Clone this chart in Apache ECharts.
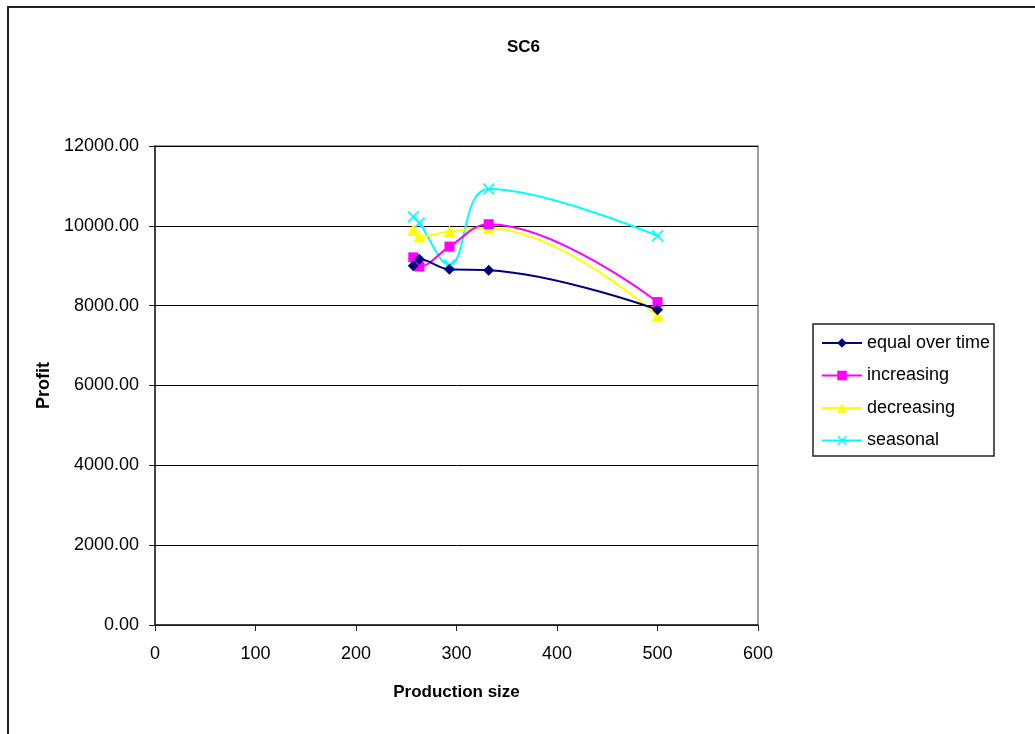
<!DOCTYPE html>
<html>
<head>
<meta charset="utf-8">
<script src="https://cdn.jsdelivr.net/npm/echarts@6/dist/echarts.min.js"></script>
<style>
  html, body { margin: 0; padding: 0; background: #fff; }
  #chart { width: 1035px; height: 734px; }
</style>
</head>
<body>
<div id="chart"></div>
<script>
// Production sizes (x) shared by all demand patterns
const productionSize = [257, 263, 293, 332, 500];
const equalOverTime = [9000, 9160, 8910, 8890, 7900];
const increasing = [9210, 8980, 9480, 10040, 8090];
const decreasing = [9900, 9730, 9860, 9940, 7750];
const seasonal = [10230, 10070, 9020, 10920, 9750];

const seriesNames = ['equal over time', 'increasing', 'decreasing', 'seasonal'];
const seriesValues = [equalOverTime, increasing, decreasing, seasonal];
const seriesColors = ['#000080', '#FF00FF', '#FFFF00', '#00FFFF'];
const xMark = 'path://M0,1L1,0L5,4L9,0L10,1L6,5L10,9L9,10L5,6L1,10L0,9L4,5Z';
const seriesSymbols = ['diamond', 'rect', 'triangle', xMark];
const seriesSymbolSizes = [11, 10, 12, 12];

const FONT = '"Liberation Sans", Arial, sans-serif';

const chart = echarts.init(document.getElementById('chart'), null, { renderer: 'canvas' });

const series = seriesNames.map((name, i) => ({
  name: name,
  type: 'line',
  smooth: 0.4,
  data: productionSize.map((x, k) => [x, seriesValues[i][k]]),
  symbol: seriesSymbols[i],
  symbolSize: seriesSymbolSizes[i],
  showAllSymbol: true,
  lineStyle: { color: seriesColors[i], width: 2 },
  itemStyle: { color: seriesColors[i], borderWidth: 0 },
  emphasis: { disabled: true },
  z: 10 - i
}));

chart.setOption({
  animation: false,
  backgroundColor: '#fff',
  title: {
    text: 'SC6',
    left: 502,
    top: 34,
    textStyle: { fontFamily: FONT, fontSize: 17, fontWeight: 'bold', color: '#000' }
  },
  grid: {
    left: 155, top: 146, width: 603, height: 479,
    show: true, borderColor: '#808080', borderWidth: 1.5, backgroundColor: '#fff'
  },
  xAxis: {
    type: 'value',
    min: 0, max: 600, interval: 100,
    name: 'Production size',
    nameLocation: 'middle',
    nameGap: 59,
    nameTextStyle: { fontFamily: FONT, fontSize: 17, fontWeight: 'bold', color: '#000' },
    axisLine: { show: true, onZero: false, lineStyle: { color: '#222', width: 1.5 } },
    axisTick: { show: true, length: 6, lineStyle: { color: '#222', width: 1 } },
    axisLabel: { fontFamily: FONT, fontSize: 18, color: '#000', margin: 20 },
    splitLine: { show: false }
  },
  yAxis: {
    type: 'value',
    min: 0, max: 12000, interval: 2000,
    name: 'Profit',
    nameLocation: 'middle',
    nameRotate: 90,
    nameGap: 98,
    nameTextStyle: { fontFamily: FONT, fontSize: 18, fontWeight: 'bold', color: '#000' },
    axisLine: { show: true, onZero: false, lineStyle: { color: '#222', width: 1.5 } },
    axisTick: { show: true, length: 6, lineStyle: { color: '#222', width: 1 } },
    axisLabel: {
      fontFamily: FONT, fontSize: 18, color: '#000', margin: 16,
      formatter: v => v.toFixed(2)
    },
    splitLine: { show: true, lineStyle: { color: '#000', width: 1 } }
  },
  legend: {
    orient: 'vertical',
    left: 821,
    top: 334,
    padding: 0,
    itemWidth: 40,
    itemHeight: 12,
    itemGap: 14.5,
    data: seriesNames,
    textStyle: { fontFamily: FONT, fontSize: 18, color: '#000', lineHeight: 18, padding: [0, 0, 0, 0] },
    selectedMode: false
  },
  graphic: [
    {
      type: 'rect',
      shape: { x: 8, y: 7, width: 1200, height: 900 },
      style: { fill: 'none', stroke: '#222', lineWidth: 2 },
      silent: true, z: 100
    },
    {
      type: 'rect',
      shape: { x: 813, y: 324, width: 181, height: 132 },
      style: { fill: 'none', stroke: '#222', lineWidth: 1.5 },
      silent: true, z: 100
    }
  ],
  series: series
});
</script>
</body>
</html>
